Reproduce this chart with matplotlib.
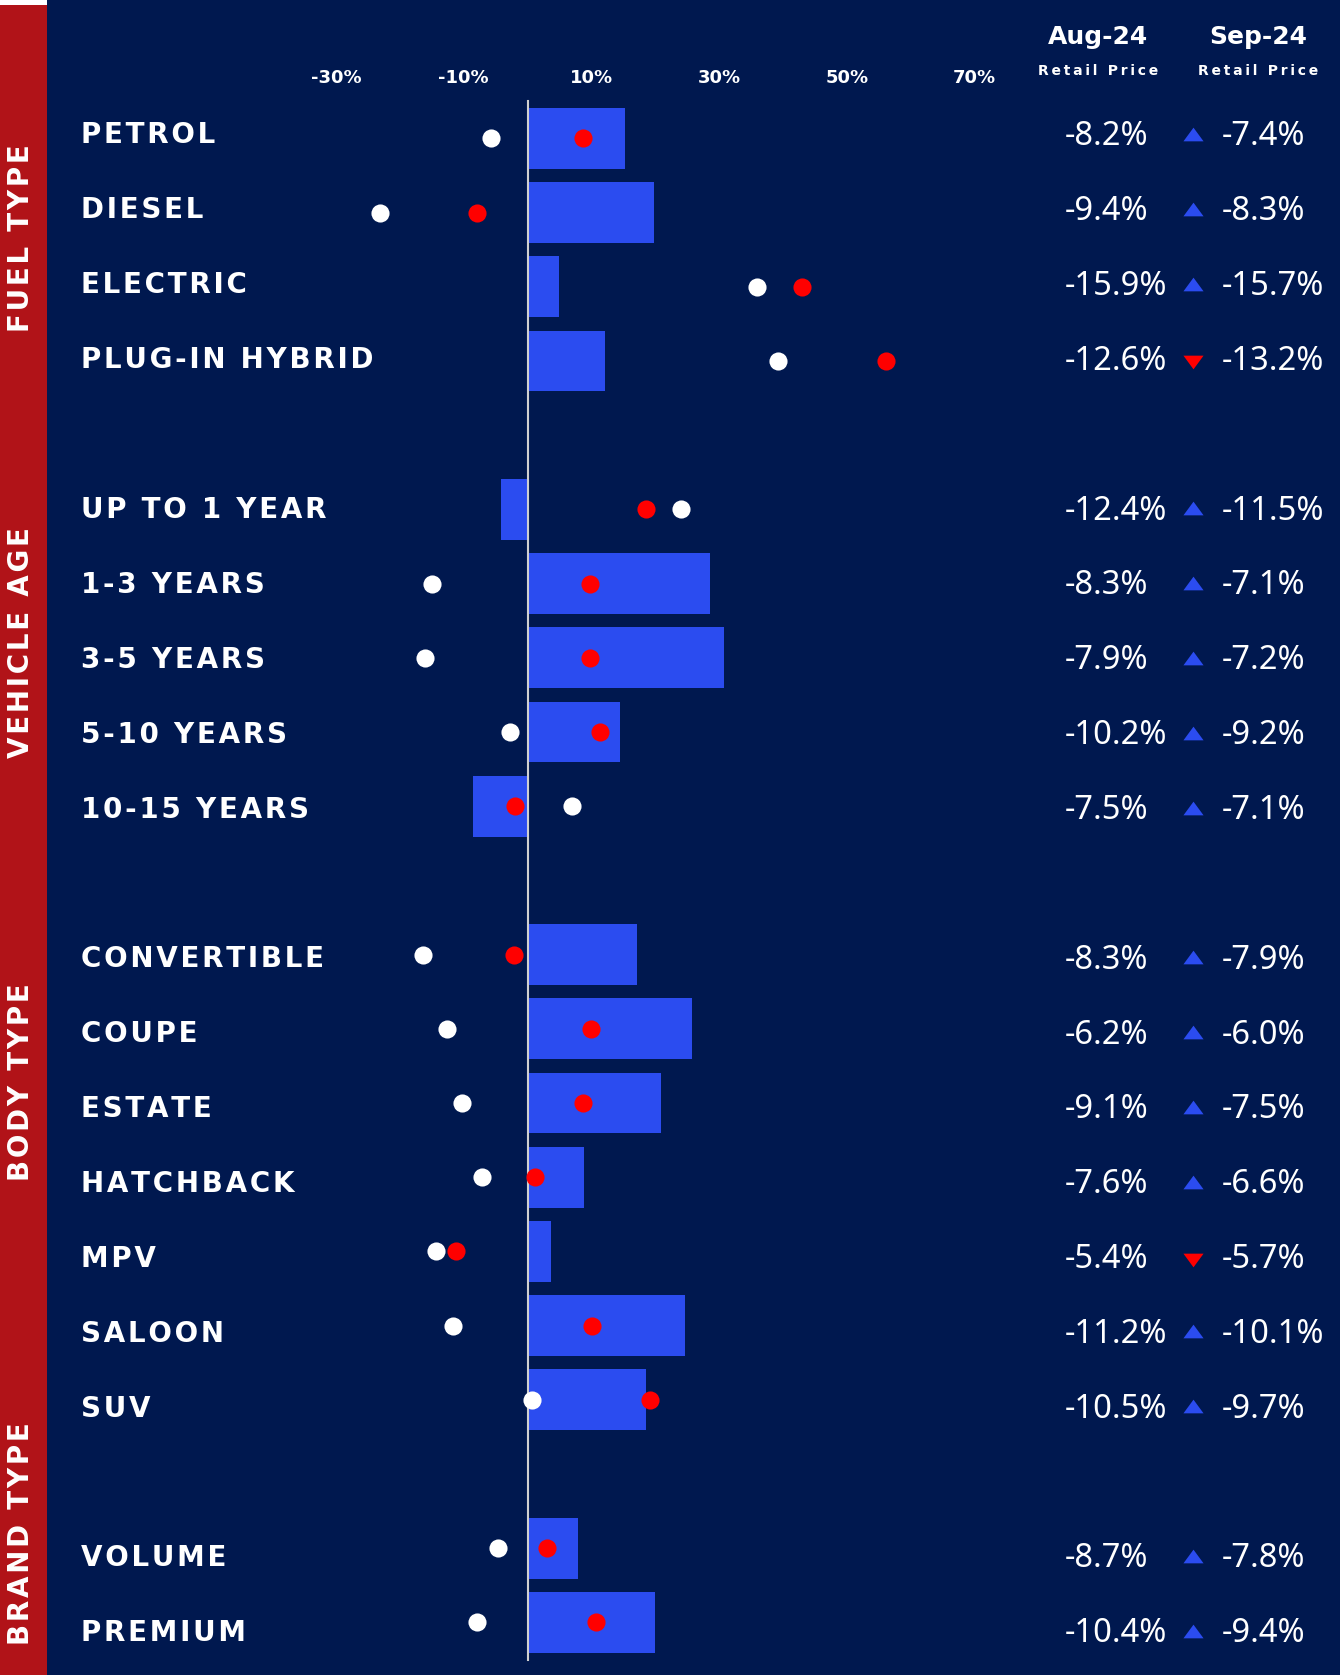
import matplotlib
matplotlib.use("Agg")
import matplotlib.pyplot as plt
from matplotlib.patches import Rectangle

# data
groups = ["FUEL TYPE", "VEHICLE AGE", "BODY TYPE", "BRAND TYPE"]
group_sizes = [4, 5, 7, 2]
labels = ["PETROL", "DIESEL", "ELECTRIC", "PLUG-IN HYBRID",
          "UP TO 1 YEAR", "1-3 YEARS", "3-5 YEARS", "5-10 YEARS", "10-15 YEARS",
          "CONVERTIBLE", "COUPE", "ESTATE", "HATCHBACK", "MPV", "SALOON", "SUV",
          "VOLUME", "PREMIUM"]
bar_vals = [15.2, 19.8, 4.9, 12.1,
            -4.2, 28.6, 30.7, 14.4, -8.5,
            17.1, 25.8, 20.9, 8.9, 3.7, 24.6, 18.6,
            7.9, 19.9]
white_vals = [-5.7, -23.1, 36.0, 39.2,
              24.1, -14.9, -16.1, -2.7, 7.0,
              -16.4, -12.6, -10.2, -7.2, -14.4, -11.7, 0.7,
              -4.7, -7.9]
red_vals = [8.7, -7.9, 42.9, 56.1,
            18.6, 9.7, 9.7, 11.4, -2.0,
            -2.2, 9.9, 8.7, 1.2, -11.2, 10.1, 19.1,
            3.0, 10.7]
aug_vals = [-8.2, -9.4, -15.9, -12.6,
            -12.4, -8.3, -7.9, -10.2, -7.5,
            -8.3, -6.2, -9.1, -7.6, -5.4, -11.2, -10.5,
            -8.7, -10.4]
sep_vals = [-7.4, -8.3, -15.7, -13.2,
            -11.5, -7.1, -7.2, -9.2, -7.1,
            -7.9, -6.0, -7.5, -6.6, -5.7, -10.1, -9.7,
            -7.8, -9.4]
ticks = [-30, -10, 10, 30, 50, 70]
col_heads = ["Aug-24", "Sep-24"]
col_sub = "Retail Price"

BG = "#00184f"
BAR = "#2b4cf0"
RED = "#ff0000"
STRIP = "#b11318"


def spaced(s, gap="\u200a"):
    # fake letter spacing
    return gap.join(s)


# row positions: one empty slot between groups
rows = []
k = 0
for n in group_sizes:
    rows += list(range(k, k + n))
    k += n + 1

W, H = 1340, 1675
fig = plt.figure(figsize=(W / 100, H / 100), dpi=100, facecolor=BG)
ax = fig.add_axes([0, 0, 1, 1])
ax.axis("off")

px_per = 6.385
x0 = 527.6
ax.set_xlim(-x0 / px_per, (W - x0) / px_per)
row_px = 74.2
top_px = 138.4
ax.set_ylim((H - top_px) / row_px, -top_px / row_px)

# red strip on the left
ax.add_patch(Rectangle((0, 0), 47 / W, (H - 5) / H, transform=ax.transAxes,
                       facecolor=STRIP, edgecolor="none", zorder=0))
ax.add_patch(Rectangle((0, (H - 5) / H), 47 / W, 5 / H, transform=ax.transAxes,
                       facecolor="white", edgecolor="none", zorder=0))

ax.barh(rows, bar_vals, height=0.82, color=BAR, zorder=2)
ax.plot([0, 0], [-0.5, 20.5], color="#d0d0d0", lw=1.5, zorder=3)
ax.scatter(white_vals, rows, s=170, color="white", zorder=4, linewidths=0)
ax.scatter(red_vals, rows, s=170, color=RED, zorder=5, linewidths=0)

for t in ticks:
    ax.text(t, -0.81, f"{t}%", color="white", fontsize=13, fontweight="bold",
            ha="center", va="center", family="DejaVu Sans")

# text rows in the original sit on a slightly looser pitch than the bars
yt = ax.get_yaxis_transform()
for lab, r in zip(labels, rows):
    ax.text(81 / W, r * 1.0094 - 0.04, spaced(lab), transform=yt, color="white",
            fontsize=20, fontweight="bold", ha="left", va="center", family="DejaVu Sans")

# group names in the strip
group_y = [1.34, 6.8, 12.72, 18.8]
for g, gy in zip(groups, group_y):
    ax.text(21 / W, gy, spaced(g), transform=yt, color="white", fontsize=20,
            fontweight="bold", rotation=90, ha="center", va="center",
            family="DejaVu Sans", zorder=6)

# column headers
for head, cx in zip(col_heads, [1098, 1258]):
    ax.text(cx / W, -1.37, head, transform=yt, color="white", fontsize=18,
            fontweight="bold", ha="center", va="center", family="DejaVu Sans")
    ax.text(cx / W, -0.915, spaced(col_sub, "\u2009"), transform=yt, color="white",
            fontsize=10, fontweight="bold", ha="center", va="center", family="DejaVu Sans")

up = [(-1, -0.68), (1, -0.68), (0, 0.68)]
down = [(-1, 0.68), (1, 0.68), (0, -0.68)]
for a, b, r in zip(aug_vals, sep_vals, rows):
    vy = r * 1.0087 - 0.02
    ax.text(1065 / W, vy, f"{a:.1f}%", transform=yt, color="white", fontsize=23.5,
            ha="left", va="center", family=["Noto Sans", "DejaVu Sans"])
    ax.text(1222 / W, vy, f"{b:.1f}%", transform=yt, color="white", fontsize=23.5,
            ha="left", va="center", family=["Noto Sans", "DejaVu Sans"])
    if b >= a:
        ax.scatter([1193 / W], [vy - 0.04], marker=up, s=210, color=BAR, transform=yt,
                   linewidths=0, zorder=5)
    else:
        ax.scatter([1193 / W], [vy + 0.01], marker=down, s=210, color=RED, transform=yt,
                   linewidths=0, zorder=5)

fig.savefig("out.png", dpi=100, facecolor=BG)
